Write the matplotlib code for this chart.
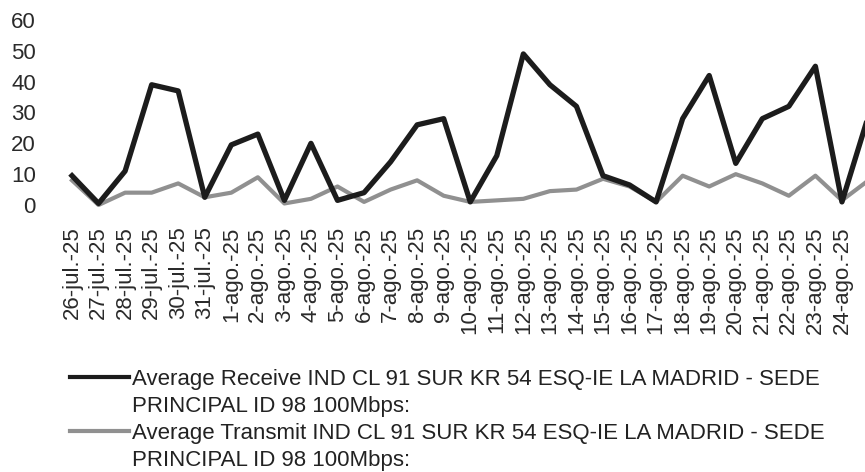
import matplotlib
matplotlib.use("Agg")
import matplotlib.pyplot as plt
from matplotlib.lines import Line2D

plt.rcParams['font.family'] = ['Liberation Sans', 'DejaVu Sans']

# ---- data ----
tick_labels = ['26-jul.-25', '27-jul.-25', '28-jul.-25', '29-jul.-25', '30-jul.-25', '31-jul.-25',
               '1-ago.-25', '2-ago.-25', '3-ago.-25', '4-ago.-25', '5-ago.-25', '6-ago.-25',
               '7-ago.-25', '8-ago.-25', '9-ago.-25', '10-ago.-25', '11-ago.-25', '12-ago.-25',
               '13-ago.-25', '14-ago.-25', '15-ago.-25', '16-ago.-25', '17-ago.-25', '18-ago.-25',
               '19-ago.-25', '20-ago.-25', '21-ago.-25', '22-ago.-25', '23-ago.-25', '24-ago.-25']
# one more day (25-ago) continues past the clipped right edge
receive = [9.5, 0.5, 11, 39, 37, 2.5, 19.5, 23, 1.5, 20, 1.5, 4, 14, 26, 28, 1, 16, 49, 39, 32,
           9.5, 6.5, 1, 28, 42, 13.5, 28, 32, 45, 1, 29]
transmit = [8, 0, 4, 4, 7, 2.5, 4, 9, 0.5, 2, 6, 1, 5, 8, 3, 1, 1.5, 2, 4.5, 5,
            8.5, 6, 1, 9.5, 6, 10, 7, 3, 9.5, 1.5, 8]
y_ticks = [0, 10, 20, 30, 40, 50, 60]
label_receive = 'Average Receive IND CL 91 SUR KR 54 ESQ-IE LA MADRID - SEDE\nPRINCIPAL ID 98 100Mbps:'
label_transmit = 'Average Transmit IND CL 91 SUR KR 54 ESQ-IE LA MADRID - SEDE\nPRINCIPAL ID 98 100Mbps:'

W, H = 865, 472
FS = 16
fig = plt.figure(figsize=(W / 100, H / 100), dpi=100)
fig.patch.set_facecolor('white')

# axes geometry in pixels
px0, step = 72, 26.55      # pixel x of first category, spacing
ax_left, ax_right = 58, 865
y0_px, y60_px = 205, 20
ax = fig.add_axes([ax_left / W, (H - y0_px) / H, (ax_right - ax_left) / W, (y0_px - y60_px) / H])
ax.set_xlim((ax_left - px0) / step, (ax_right - px0) / step)
ax.set_ylim(0, 60)

x = list(range(len(receive)))
c_recv = '#1c1c1c'
c_tran = '#909090'
ax.plot(x, transmit, color=c_tran, lw=3.0, solid_joinstyle='round', clip_on=False, zorder=2)
ax.plot(x, receive, color=c_recv, lw=3.8, solid_joinstyle='round', clip_on=False, zorder=3)

for s in ax.spines.values():
    s.set_visible(False)
ax.set_yticks(y_ticks)
ax.set_yticklabels([str(v) for v in y_ticks], fontsize=FS, color='#2a2a2a')
ax.set_xticks(range(len(tick_labels)))
ax.set_xticklabels(tick_labels, rotation=90, fontsize=FS, color='#2a2a2a')
ax.tick_params(axis='y', length=0, pad=16)
ax.tick_params(axis='x', length=0, pad=15.5)
ax.set_facecolor('none')

# legend (manual, in pixel coordinates)
def px(xp, yp):
    return xp / W, (H - yp) / H

legend_rows = [(377, 404, c_recv, label_receive), (431, 458, c_tran, label_transmit)]
for y1, y2, col, lab in legend_rows:
    (xa, ya), (xb, yb) = px(70, y1), px(129, y1)
    fig.add_artist(Line2D([xa, xb], [ya, yb], color=col, lw=3.0, transform=fig.transFigure))
    for yl, line in zip((y1, y2), lab.split('\n')):
        tx, ty = px(132, yl + 8)
        fig.text(tx, ty, line, fontsize=FS, va='baseline', ha='left', color='#222222')

fig.savefig('out.png', dpi=100, facecolor='white')
